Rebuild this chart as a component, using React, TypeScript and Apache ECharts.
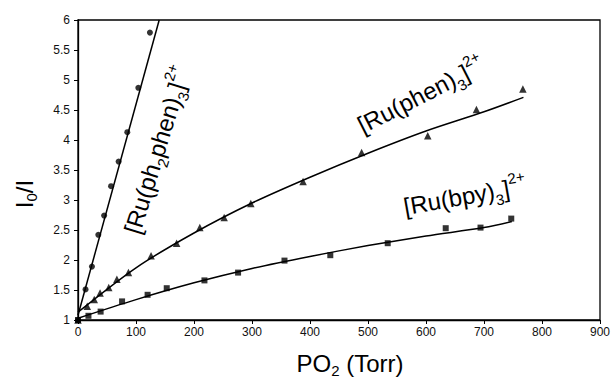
import React, { useEffect, useRef } from "react";
import * as echarts from "echarts";

// ---- data ----
const xTicks = [0, 100, 200, 300, 400, 500, 600, 700, 800, 900];
const yTicks = [1, 1.5, 2, 2.5, 3, 3.5, 4, 4.5, 5, 5.5, 6];

const ph2phenX = [0, 13, 24, 35, 45, 57, 70, 85, 104, 124];
const ph2phenY = [1.0, 1.51, 1.89, 2.42, 2.74, 3.23, 3.64, 4.13, 4.87, 5.79];

const phenX = [0, 16, 28, 38, 53, 67, 87, 126, 170, 210, 252, 298, 388, 489, 603, 687, 767];
const phenY = [1.0, 1.23, 1.34, 1.45, 1.54, 1.68, 1.79, 2.07, 2.28, 2.54, 2.71, 2.94, 3.31, 3.79, 4.07, 4.51, 4.85];

const bpyX = [0, 18, 39, 76, 120, 153, 218, 276, 356, 435, 534, 634, 694, 747];
const bpyY = [1.0, 1.07, 1.14, 1.31, 1.42, 1.53, 1.66, 1.79, 1.99, 2.08, 2.28, 2.53, 2.54, 2.69];

// fitted curves
const ph2phenFitX = [0, 140];
const ph2phenFitY = [1.08, 6.0];
const phenFitX = [0, 100, 200, 300, 400, 500, 600, 700, 768];
const phenFitY = [1.13, 1.87, 2.45, 2.95, 3.38, 3.78, 4.15, 4.47, 4.71];
const bpyFitX = [0, 100, 200, 300, 400, 500, 600, 700, 748];
const bpyFitY = [1.03, 1.34, 1.62, 1.86, 2.06, 2.24, 2.4, 2.54, 2.64];

const zip = (xs: number[], ys: number[]) => xs.map((x, i) => [x, ys[i]]);

const FONT = "'Liberation Sans', Arial, sans-serif";
const richStyles = {
  n: { fontSize: 24, fontFamily: FONT, color: "#000", lineHeight: 34, verticalAlign: "middle" },
  sub: { fontSize: 15, fontFamily: FONT, color: "#000", lineHeight: 15, verticalAlign: "bottom" },
  sup: { fontSize: 15, fontFamily: FONT, color: "#000", lineHeight: 15, verticalAlign: "top" },
};
const richTitle = {
  n: { fontSize: 24, fontFamily: FONT, color: "#000", lineHeight: 30, verticalAlign: "middle" },
  sub: { fontSize: 15, fontFamily: FONT, color: "#000", lineHeight: 15, verticalAlign: "bottom" },
};

function label(text: string, x: number, y: number, deg: number, rich: any = richStyles) {
  return {
    type: "text",
    x,
    y,
    rotation: (deg * Math.PI) / 180,
    style: {
      text,
      rich,
      align: "center",
      verticalAlign: "middle",
      fill: "#000",
    },
    silent: true,
  };
}

export default function App() {
  const ref = useRef<HTMLDivElement>(null);
  useEffect(() => {
    if (!ref.current) return;
    const chart = echarts.init(ref.current, null, { renderer: "svg" });
    const axisLine = { show: true, lineStyle: { color: "#000", width: 1.3 } };
    const scatterBase = {
      type: "scatter",
      itemStyle: { color: "#000" },
      z: 3,
    };
    const fitBase = {
      type: "line",
      showSymbol: false,
      symbol: "none",
      smooth: 0.3,
      lineStyle: { color: "#000", width: 1.5 },
      z: 2,
    };
    chart.setOption({
      animation: false,
      backgroundColor: "#fff",
      grid: {
        left: 78,
        right: 14,
        top: 20,
        bottom: 61,
        show: true,
        borderColor: "#000",
        borderWidth: 1.3,
      },
      xAxis: {
        type: "value",
        min: xTicks[0],
        max: xTicks[xTicks.length - 1],
        interval: 100,
        axisLine,
        axisTick: { show: true, inside: false, length: 4, lineStyle: { color: "#000" } },
        splitLine: { show: false },
        axisLabel: { color: "#111", fontSize: 12, fontFamily: FONT, margin: 6 },
      },
      yAxis: {
        type: "value",
        min: yTicks[0],
        max: yTicks[yTicks.length - 1],
        interval: 0.5,
        axisLine,
        axisTick: { show: true, inside: false, length: 4, lineStyle: { color: "#000" } },
        splitLine: { show: false },
        axisLabel: { color: "#111", fontSize: 12, fontFamily: FONT, margin: 8 },
      },
      graphic: [
        label("{n|PO}{sub|2}{n| (Torr)}", 350, 363, 0, richTitle),
        label("{n|I}{sub|0}{n|/I}", 24, 194, 90, richTitle),
        label("{n|[Ru(ph}{sub|2}{n|phen)}{sub|3}{n|]}{sup|2+}", 157, 150, 73),
        label("{n|[Ru(phen)}{sub|3}{n|]}{sup|2+}", 421, 95, 27),
        label("{n|[Ru(bpy)}{sub|3}{n|]}{sup|2+}", 465, 196, 10),
      ],
      series: [
        { ...fitBase, data: zip(ph2phenFitX, ph2phenFitY), smooth: false },
        { ...fitBase, data: zip(phenFitX, phenFitY) },
        { ...fitBase, data: zip(bpyFitX, bpyFitY) },
        { ...scatterBase, symbol: "circle", symbolSize: 6, data: zip(ph2phenX, ph2phenY) },
        { ...scatterBase, symbol: "triangle", symbolSize: 7.5, data: zip(phenX, phenY) },
        { ...scatterBase, symbol: "rect", symbolSize: 6, data: zip(bpyX, bpyY) },
      ],
    });
    return () => chart.dispose();
  }, []);
  return <div ref={ref} style={{ width: 614, height: 381, position: "absolute", left: 0, top: 0 }} />;
}
